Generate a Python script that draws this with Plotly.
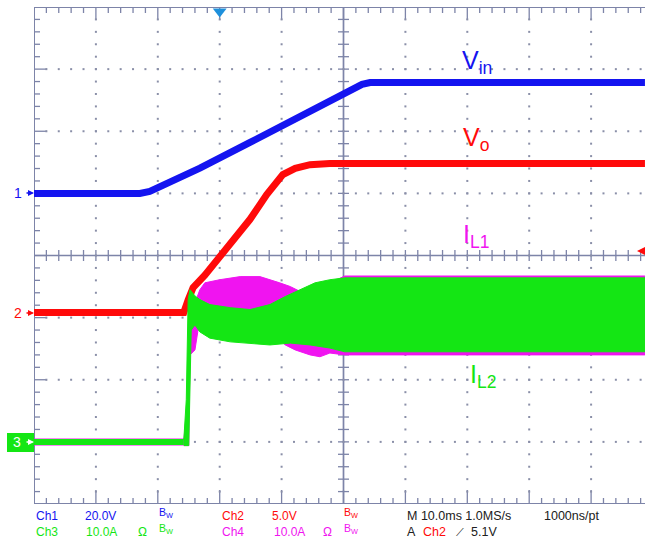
import numpy as np
import plotly.graph_objects as go

# ---------------- data ----------------
# time in ms, 10 ms/div, trigger at t=0 (3 div from left edge)
ch1_t = [-30.0, -12.9, -11.3, -8.8, -3.2, 4.9, 13.0, 19.9, 23.0, 24.3, 68.7]
ch1_v = [0.0, 0.0, 0.6, 2.9, 8.1, 16.4, 24.5, 31.9, 35.1, 35.7, 35.7]          # Vin, V

ch2_t = [-30.0, -5.8, -5.1, -4.3, -2.4, -0.4, 2.2, 4.9, 7.6, 10.2, 12.2, 14.6, 17.8, 68.7]
ch2_v = [0.0, 0.0, 1.0, 2.0, 3.0, 4.2, 5.8, 7.5, 9.5, 11.1, 11.6, 11.9, 12.0, 12.0]  # Vo, V

# inductor currents (A): ripple band envelopes
base_t = [-30.0, -5.8]
base_i = [0.0, 0.0]

il2_t_up = [-5.8, -5.4, -5.1, -4.8, -4.0, -3.2, -1.6, 1.7, 4.9, 8.1, 10.6, 13.0, 15.4, 17.8, 20.2, 68.7]
il2_up = [0.3, 6.8, 22.9, 24.5, 23.5, 22.9, 22.1, 21.6, 21.3, 22.1, 23.4, 24.5, 25.6, 26.1, 26.4, 26.4]
il2_t_lo = [-5.8, -5.0, -4.6, -4.0, -3.2, -1.6, 1.7, 4.9, 8.1, 11.4, 14.6, 17.8, 20.2, 68.7]
il2_lo = [-0.6, -0.6, 18.0, 18.8, 17.7, 16.7, 16.1, 15.8, 15.6, 15.9, 15.6, 15.1, 14.5, 14.5]

il1_t_up = [-5.8, -5.3, -5.0, -4.5, -3.8, -3.2, -2.4, 0.0, 3.3, 6.5, 9.7, 11.4, 13.0, 15.4, 17.8, 20.2, 68.7]
il1_up = [0.3, 5.2, 18.0, 20.4, 22.9, 24.5, 25.6, 26.1, 26.6, 26.6, 25.6, 25.0, 24.2, 24.5, 25.6, 26.7, 26.7]
il1_t_lo = [-5.8, -5.0, -4.8, -4.0, -3.5, -2.4, 1.7, 6.5, 9.7, 10.6, 12.2, 14.6, 16.2, 17.8, 20.2, 68.7]
il1_lo = [-0.6, -0.6, 14.0, 14.8, 18.0, 18.8, 18.0, 17.2, 16.4, 15.6, 14.8, 14.0, 13.7, 14.3, 14.0, 14.0]

# channel scales / ground positions (div from centre)
CH1_VDIV, CH1_GND = 20.0, 1.0
CH2_VDIV, CH2_GND = 5.0, -0.9175
CH34_ADIV, CH34_GND = 10.0, -3.0

# ---------------- geometry ----------------
W, H = 645, 539
L, T, B = 34, 7, 35
PW, PH = W - L, H - T - B
DIV_PX_X = 61.9
X0 = -30.0
X1 = X0 + 10.0 * PW / DIV_PX_X
PX_MS = PW / (X1 - X0)
PX_DIV = PH / 8.0

BLUE = "#1414f0"
RED = "#ff0a0a"
GREEN = "#14e614"
MAG = "#f014f0"
GRID = "#7d84a8"

fig = go.Figure()

# IL1 band (magenta), drawn below IL2
fig.add_trace(go.Scatter(x=il1_t_up + il1_t_lo[::-1], y=il1_up + il1_lo[::-1], yaxis="y4",
                         fill="toself", fillcolor=MAG, mode="lines", line=dict(color=MAG, width=1),
                         hoverinfo="skip", showlegend=False))
fig.add_trace(go.Scatter(x=base_t, y=base_i, yaxis="y4", mode="lines",
                         line=dict(color=MAG, width=7), showlegend=False))
# IL2 band (green)
fig.add_trace(go.Scatter(x=il2_t_up + il2_t_lo[::-1], y=il2_up + il2_lo[::-1], yaxis="y4",
                         fill="toself", fillcolor=GREEN, mode="lines", line=dict(color=GREEN, width=1),
                         hoverinfo="skip", showlegend=False))
fig.add_trace(go.Scatter(x=base_t, y=base_i, yaxis="y4", mode="lines",
                         line=dict(color=GREEN, width=6), showlegend=False))
# Vo
fig.add_trace(go.Scatter(x=ch2_t, y=ch2_v, yaxis="y3", mode="lines",
                         line=dict(color=RED, width=7), showlegend=False))
# Vin
fig.add_trace(go.Scatter(x=ch1_t, y=ch1_v, yaxis="y2", mode="lines",
                         line=dict(color=BLUE, width=7), showlegend=False))

# ---------------- graticule (above traces) ----------------
gx, gy = [], []
def seg(xa, ya, xb, yb):
    gx.extend([xa, xb, None]); gy.extend([ya, yb, None])

minor_t = np.arange(X0, X1 + 1e-6, 2.0)
minor_y = np.arange(-4.0, 4.0 + 1e-6, 0.2)
for t in minor_t:
    major = abs((t - X0) / 10.0 - round((t - X0) / 10.0)) < 1e-6
    top_len = (13 if major else 6) / PX_DIV
    bot_len = (14 if major else 6) / PX_DIV
    seg(t, 4.0, t, 4.0 - top_len)
    seg(t, -4.0, t, -4.0 + bot_len)
    if abs(t - 20.0) > 1e-6:
        seg(t, -5.5 / PX_DIV, t, 5.5 / PX_DIV)
for yv in minor_y:
    major = abs(yv * 1.0 - round(yv)) < 1e-6
    ln = (13 if major else 6) / PX_MS
    seg(X0, yv, X0 + ln, yv)
    if abs(yv) > 1e-6:
        seg(20.0 - 5.5 / PX_MS, yv, 20.0 + 5.5 / PX_MS, yv)
fig.add_trace(go.Scatter(x=gx, y=gy, mode="lines", line=dict(color=GRID, width=1.3),
                         hoverinfo="skip", showlegend=False))
# centre cross
fig.add_trace(go.Scatter(x=[20.0, 20.0, None, X0, X1], y=[-4.0, 4.0, None, 0.0, 0.0], mode="lines",
                         line=dict(color=GRID, width=1.7), hoverinfo="skip", showlegend=False))

# borders
fig.add_trace(go.Scatter(x=[X1, X0, X0, X1], y=[4.0, 4.0, -4.0, -4.0], mode="lines",
                         line=dict(color=GRID, width=2), hoverinfo="skip", showlegend=False))

# dotted gridlines
dx, dy = [], []
for t in np.arange(X0 + 10, X1, 10.0):
    if abs(t - 20.0) < 1e-6:
        continue
    for yv in minor_y[1:-1]:
        dx.append(t); dy.append(yv)
for yv in [-3, -2, -1, 1, 2, 3]:
    for t in minor_t[1:]:
        dx.append(t); dy.append(yv)
fig.add_trace(go.Scatter(x=dx, y=dy, mode="markers",
                         marker=dict(symbol="square", size=2, color="#8a8fa8", line=dict(width=0)),
                         hoverinfo="skip", showlegend=False))

# trigger position marker
fig.add_trace(go.Scatter(x=[0.0], y=[4.0 - 4.5 / PX_DIV], mode="markers",
                         marker=dict(symbol="triangle-down", size=12, color="#1e90dc", line=dict(width=0)),
                         hoverinfo="skip", showlegend=False))

def px2paper(px, py):
    return (px - L) / PW, (T + PH - py) / PH

ann = []
def text(px, py, s, color, size=12, anchor="left", family="Liberation Sans"):
    x, y = px2paper(px, py)
    ann.append(dict(x=x, y=y, xref="paper", yref="paper", text=s, showarrow=False,
                    xanchor=anchor, yanchor="middle", font=dict(color=color, size=size, family=family)))

# trace labels
text(460, 62, "V<sub>in</sub>", BLUE, 25)
text(461, 139, "V<sub>o</sub>", RED, 25)
text(461, 236, "I<sub>L1</sub>", MAG, 25)
text(468, 376, "I<sub>L2</sub>", GREEN, 25)

# left channel markers
text(24, 193, "1", BLUE, 14, "right")
text(24, 313, "2", RED, 14, "right")
fig.add_shape(type="rect", xref="paper", yref="paper",
              x0=px2paper(7, 0)[0], x1=px2paper(34, 0)[0],
              y0=px2paper(0, 452)[1], y1=px2paper(0, 433)[1],
              fillcolor="#14e614", line=dict(width=0), layer="above")
text(23, 442, "3", "white", 14, "right")
for py, col in [(193, BLUE), (313, RED), (442, "white")]:
    x, y = px2paper(34, py)
    ann.append(dict(x=x, y=y, xref="paper", yref="paper", ax=-9, ay=0, text="",
                    showarrow=True, arrowhead=2, arrowsize=0.8, arrowwidth=1.5, arrowcolor=col))
# trigger level arrow (right)
x, y = px2paper(637, 251)
ann.append(dict(x=x, y=y, xref="paper", yref="paper", ax=9, ay=0, text="",
                showarrow=True, arrowhead=2, arrowsize=1, arrowwidth=2, arrowcolor=RED))

# bottom status text
r1, r2 = 516, 532
BW = "B<sub>W</sub>"
text(34, r1, "Ch1", BLUE); text(83, r1, "20.0V", BLUE); text(157, r1 - 3, BW, BLUE, 10.5)
text(220, r1, "Ch2", RED); text(270, r1, "5.0V", RED); text(342, r1 - 3, BW, RED, 10.5)
text(405, r1, "M 10.0ms 1.0MS/s", "#202020", 12.5); text(542, r1, "1000ns/pt", "#202020", 12.5)
text(34, r2, "Ch3", GREEN); text(84, r2, "10.0A", GREEN); text(136, r2, "Ω", GREEN); text(157, r2 - 3, BW, GREEN, 10.5)
text(220, r2, "Ch4", MAG); text(272, r2, "10.0A", MAG); text(321, r2, "Ω", MAG); text(342, r2 - 3, BW, MAG, 10.5)
text(405, r2, "A", "#202020", 12.5); text(421, r2, "Ch2", RED, 12.5); text(454, r2, "⟋", "#202020", 11)
text(469, r2, "5.1V", "#202020", 12.5)

fig.update_layout(
    width=W, height=H, margin=dict(l=L, r=0, t=T, b=B),
    paper_bgcolor="white", plot_bgcolor="white",
    xaxis=dict(range=[X0, X1], visible=False, fixedrange=True),
    yaxis=dict(range=[-4, 4], visible=False),
    yaxis2=dict(range=[(-4 - CH1_GND) * CH1_VDIV, (4 - CH1_GND) * CH1_VDIV], overlaying="y", visible=False),
    yaxis3=dict(range=[(-4 - CH2_GND) * CH2_VDIV, (4 - CH2_GND) * CH2_VDIV], overlaying="y", visible=False),
    yaxis4=dict(range=[(-4 - CH34_GND) * CH34_ADIV, (4 - CH34_GND) * CH34_ADIV], overlaying="y", visible=False),
    annotations=ann, showlegend=False,
)
fig.write_html("out.html")
